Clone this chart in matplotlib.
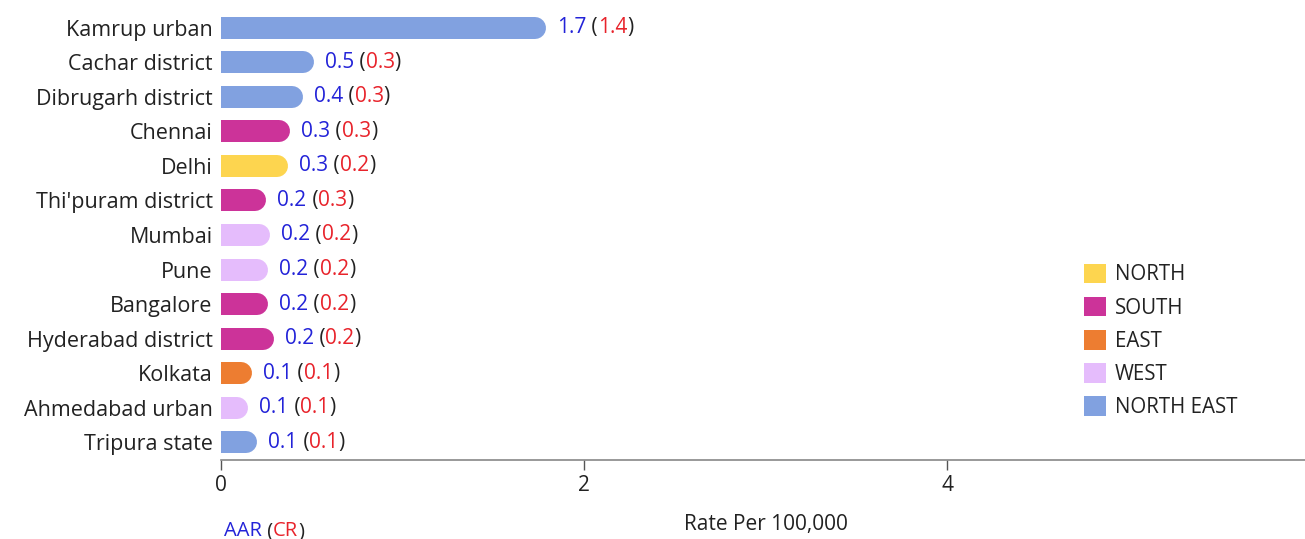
import matplotlib
matplotlib.use('Agg')
import matplotlib.pyplot as plt
from matplotlib.patches import Patch

# ---------------------- data ----------------------
regions = ['Kamrup urban', 'Cachar district', 'Dibrugarh district', 'Chennai', 'Delhi',
           "Thi'puram district", 'Mumbai', 'Pune', 'Bangalore', 'Hyderabad district',
           'Kolkata', 'Ahmedabad urban', 'Tripura state']
zones = ['NORTH EAST', 'NORTH EAST', 'NORTH EAST', 'SOUTH', 'NORTH',
         'SOUTH', 'WEST', 'WEST', 'SOUTH', 'SOUTH',
         'EAST', 'WEST', 'NORTH EAST']
bar_len = [1.79, 0.51, 0.45, 0.38, 0.37, 0.25, 0.27, 0.26, 0.26, 0.29, 0.17, 0.15, 0.20]
aar = [1.7, 0.5, 0.4, 0.3, 0.3, 0.2, 0.2, 0.2, 0.2, 0.2, 0.1, 0.1, 0.1]
cr = [1.4, 0.3, 0.3, 0.3, 0.2, 0.3, 0.2, 0.2, 0.2, 0.2, 0.1, 0.1, 0.1]

zone_names = ['NORTH', 'SOUTH', 'EAST', 'WEST', 'NORTH EAST']
zone_colors = ['#FDD54F', '#CC3399', '#ED7D31', '#E5BCFC', '#81A1E0']
x_ticks = [0, 2, 4, 6]

# ---------------------- style ----------------------
plt.rcParams['font.family'] = ['Open Sans', 'DejaVu Sans']
BLUE = '#2323D8'
RED = '#E8232B'
DARK = '#222222'
FS = 15

fig = plt.figure(figsize=(13.05, 5.39), dpi=100)
ax = fig.add_axes([221 / 1305, 1 - 460 / 539, (1310 - 221) / 1305, 450 / 539])

cmap = dict(zip(zone_names, zone_colors))
ypos = list(range(len(regions)))

# bars with a rounded right end: thick line with round caps, left cap clipped at x=0
bar_px = 22
lw = bar_px * 72 / fig.dpi
r = (bar_px / 2) / ((1310 - 221) / 6.0)  # radius in data units
for y, v, z in zip(ypos, bar_len, zones):
    ax.plot([0, v - r], [y, y], color=cmap[z], lw=lw, solid_capstyle='round',
            clip_on=True)

# value labels: AAR (CR)
for y, v, a, c in zip(ypos, bar_len, aar, cr):
    t1 = ax.annotate(f'{a}', xy=(v, y), xytext=(8, 0), textcoords='offset points',
                     va='center', ha='left', color=BLUE, fontsize=FS)
    t2 = ax.annotate(' (', xy=(1, 0), xycoords=t1, va='bottom', ha='left',
                     color=DARK, fontsize=FS)
    t3 = ax.annotate(f'{c}', xy=(1, 0), xycoords=t2, va='bottom', ha='left',
                     color=RED, fontsize=FS)
    ax.annotate(')', xy=(1, 0), xycoords=t3, va='bottom', ha='left',
                color=DARK, fontsize=FS)

ax.set_xlim(0, 6)
ax.set_ylim(len(regions) - 0.48, -0.52)
ax.set_yticks(ypos)
ax.set_yticklabels(regions, fontsize=FS + 0.5, color=DARK)
ax.tick_params(axis='y', length=0, pad=6)
ax.set_xticks(x_ticks)
ax.set_xticklabels([str(t) for t in x_ticks], fontsize=FS, color=DARK)
ax.tick_params(axis='x', length=7, width=1, color='#555555', pad=4)

for s in ['top', 'right', 'left']:
    ax.spines[s].set_visible(False)
ax.spines['bottom'].set_color('#888888')
ax.spines['bottom'].set_linewidth(1.2)

ax.set_xlabel('Rate Per 100,000', fontsize=FS, color=DARK, labelpad=13)

# legend
handles = [Patch(facecolor=c, edgecolor='none', label=n) for n, c in zip(zone_names, zone_colors)]
fig.legend(handles=handles, loc='upper left', bbox_to_anchor=(1065 / 1305, 1 - 245 / 539),
           frameon=False, fontsize=FS - 0.2, handlelength=1.1, handleheight=1.1,
           handletextpad=0.42, labelspacing=0.55, labelcolor=DARK)

# "AAR (CR)" key
k1 = fig.text(224 / 1305, 1 - 531 / 539, 'AAR', color=BLUE, fontsize=FS - 0.5, va='center')
k2 = ax.annotate(' (', xy=(1, 0), xycoords=k1, va='bottom', color=DARK, fontsize=FS - 0.5,
                 annotation_clip=False)
k3 = ax.annotate('CR', xy=(1, 0), xycoords=k2, va='bottom', color=RED, fontsize=FS - 0.5,
                 annotation_clip=False)
ax.annotate(')', xy=(1, 0), xycoords=k3, va='bottom', color=DARK, fontsize=FS - 0.5,
            annotation_clip=False)

fig.savefig('out.png', dpi=100)
